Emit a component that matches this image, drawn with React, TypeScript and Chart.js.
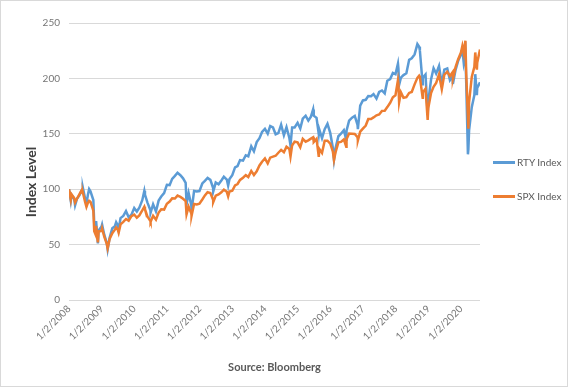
import React, { useEffect, useRef } from 'react';
import { Chart, registerables } from 'chart.js';

Chart.register(...registerables);

const seriesNames = ['RTY Index', 'SPX Index'];
const seriesColors = ['#5B9BD5', '#ED7D31'];
const yearTicks = [2008, 2009, 2010, 2011, 2012, 2013, 2014, 2015, 2016, 2017, 2018, 2019, 2020];

const dates = [
  '2008-01-02', '2008-01-22', '2008-01-31', '2008-02-29', '2008-03-10', '2008-03-31', '2008-04-30', '2008-05-19', '2008-05-30', '2008-06-05',
  '2008-06-30', '2008-07-15', '2008-07-31', '2008-08-14', '2008-08-29', '2008-09-30', '2008-10-10', '2008-10-27', '2008-10-31', '2008-11-20',
  '2008-11-28', '2008-12-31', '2009-01-06', '2009-01-30', '2009-02-27', '2009-03-09', '2009-03-31', '2009-04-30', '2009-05-29', '2009-06-12',
  '2009-06-30', '2009-07-10', '2009-07-31', '2009-08-31', '2009-09-30', '2009-10-30', '2009-11-30', '2009-12-31', '2010-01-29', '2010-02-26',
  '2010-03-31', '2010-04-23', '2010-04-30', '2010-05-28', '2010-06-30', '2010-07-02', '2010-07-30', '2010-08-31', '2010-09-30', '2010-10-29',
  '2010-11-30', '2010-12-31', '2011-01-31', '2011-02-28', '2011-03-31', '2011-04-29', '2011-05-31', '2011-06-30', '2011-07-29', '2011-08-08',
  '2011-08-31', '2011-09-30', '2011-10-03', '2011-10-31', '2011-11-30', '2011-12-30', '2012-01-31', '2012-02-29', '2012-03-30', '2012-04-30',
  '2012-05-31', '2012-06-01', '2012-06-29', '2012-07-31', '2012-08-31', '2012-09-28', '2012-10-31', '2012-11-15', '2012-11-30', '2012-12-31',
  '2013-01-31', '2013-02-28', '2013-03-28', '2013-04-30', '2013-05-31', '2013-06-28', '2013-07-31', '2013-08-30', '2013-09-30', '2013-10-31',
  '2013-11-29', '2013-12-31', '2014-01-31', '2014-02-28', '2014-03-31', '2014-04-30', '2014-05-30', '2014-06-30', '2014-07-31', '2014-08-29',
  '2014-09-30', '2014-10-13', '2014-10-31', '2014-11-28', '2014-12-31', '2015-01-30', '2015-02-27', '2015-03-31', '2015-04-30', '2015-05-29',
  '2015-06-23', '2015-06-30', '2015-07-31', '2015-08-25', '2015-08-31', '2015-09-30', '2015-10-30', '2015-11-30', '2015-12-31', '2016-01-29',
  '2016-02-11', '2016-02-29', '2016-03-31', '2016-04-29', '2016-05-31', '2016-06-27', '2016-06-30', '2016-07-29', '2016-08-31', '2016-09-30',
  '2016-10-31', '2016-11-04', '2016-11-30', '2016-12-30', '2017-01-31', '2017-02-28', '2017-03-31', '2017-04-28', '2017-05-31', '2017-06-30',
  '2017-07-31', '2017-08-31', '2017-09-29', '2017-10-31', '2017-11-30', '2017-12-29', '2018-01-26', '2018-01-31', '2018-02-08', '2018-02-28',
  '2018-03-29', '2018-04-30', '2018-05-31', '2018-06-29', '2018-07-31', '2018-08-31', '2018-09-20', '2018-09-28', '2018-10-29', '2018-10-31',
  '2018-11-30', '2018-12-24', '2018-12-31', '2019-01-31', '2019-02-28', '2019-03-29', '2019-04-30', '2019-05-31', '2019-06-28', '2019-07-31',
  '2019-08-30', '2019-09-30', '2019-10-02', '2019-10-31', '2019-11-29', '2019-12-31', '2020-01-16', '2020-01-31', '2020-02-19', '2020-02-28',
  '2020-03-18', '2020-03-23', '2020-03-31', '2020-04-30', '2020-05-29', '2020-06-08', '2020-06-26', '2020-06-30', '2020-07-31',
];

const rtyIndex = [
  100.0, 89.5, 94.7, 91.1, 85.5, 91.3, 94.8, 98.2, 99.3, 101.3,
  91.5, 86.8, 94.8, 100.1, 98.1, 90.2, 69.3, 60.6, 71.3, 51.1,
  62.8, 66.3, 68.1, 58.9, 51.6, 45.6, 56.1, 64.7, 66.6, 70.2,
  67.5, 63.6, 73.9, 75.9, 80.2, 74.7, 76.9, 83.0, 79.9, 83.4,
  90.1, 98.5, 95.1, 87.9, 80.9, 78.7, 86.4, 79.9, 89.7, 93.4,
  96.5, 104.0, 103.7, 109.3, 112.0, 114.8, 112.6, 109.8, 105.8, 86.4,
  96.5, 85.5, 80.9, 98.4, 97.9, 98.3, 105.2, 107.6, 110.2, 108.4,
  101.1, 97.8, 106.0, 104.4, 107.8, 111.2, 108.7, 103.1, 109.1, 112.7,
  119.7, 120.9, 126.3, 125.8, 130.6, 129.7, 138.7, 134.2, 142.5, 146.0,
  151.7, 154.4, 150.1, 157.0, 155.7, 149.6, 150.6, 158.3, 148.7, 155.9,
  146.2, 139.5, 155.7, 155.7, 159.9, 154.7, 163.7, 166.3, 161.9, 165.4,
  172.0, 166.4, 164.4, 149.5, 153.9, 146.1, 154.2, 159.0, 150.8, 137.4,
  126.6, 137.2, 147.8, 150.1, 153.3, 144.6, 152.9, 161.9, 164.6, 166.1,
  158.1, 154.3, 175.5, 180.1, 180.7, 184.0, 183.9, 185.9, 181.8, 187.8,
  189.1, 186.5, 197.9, 199.4, 204.9, 203.8, 213.4, 209.0, 194.2, 200.7,
  203.0, 204.6, 216.8, 218.1, 221.7, 231.0, 228.5, 225.2, 194.8, 200.6,
  203.5, 168.1, 179.0, 199.0, 209.1, 204.3, 211.2, 194.5, 207.9, 209.0,
  198.4, 202.2, 195.0, 207.4, 215.6, 221.4, 226.3, 214.2, 222.8, 195.9,
  131.5, 136.0, 153.0, 174.0, 185.0, 203.8, 184.9, 191.3, 196.5,
];

const spxIndex = [
  100.0, 90.6, 95.3, 92.0, 88.0, 91.4, 95.8, 98.6, 96.8, 97.0,
  88.5, 84.0, 87.6, 89.5, 88.6, 80.6, 62.1, 58.7, 66.9, 52.0,
  61.9, 62.4, 64.6, 57.1, 50.8, 46.7, 55.1, 60.3, 63.5, 65.4,
  63.5, 60.7, 68.2, 70.5, 73.1, 71.6, 75.7, 77.1, 74.2, 76.3,
  80.8, 84.1, 82.0, 75.3, 71.2, 70.7, 76.1, 72.5, 78.9, 81.8,
  81.6, 86.9, 88.9, 91.7, 91.6, 94.2, 93.0, 91.3, 89.3, 77.4,
  84.2, 78.2, 76.0, 86.6, 86.2, 86.9, 90.7, 94.4, 97.3, 96.6,
  90.5, 88.3, 94.1, 95.3, 97.2, 99.6, 97.6, 93.5, 97.9, 98.6,
  103.5, 104.7, 108.4, 110.4, 112.7, 111.0, 116.5, 112.8, 116.2, 121.4,
  124.8, 127.7, 123.2, 128.5, 129.4, 130.2, 132.9, 135.5, 133.4, 138.4,
  136.3, 129.5, 139.5, 142.9, 142.3, 137.9, 145.4, 142.9, 144.1, 145.6,
  146.8, 142.6, 145.4, 129.1, 136.3, 132.7, 143.7, 143.8, 141.2, 134.1,
  126.4, 133.5, 142.3, 142.7, 144.9, 138.2, 145.0, 150.2, 150.0, 149.8,
  146.9, 144.1, 152.0, 154.7, 157.5, 163.3, 163.3, 164.8, 166.7, 167.5,
  170.7, 170.8, 174.1, 178.0, 183.0, 184.8, 198.5, 195.1, 178.4, 187.5,
  182.5, 183.0, 186.9, 187.8, 194.6, 200.5, 202.5, 201.4, 182.5, 187.4,
  190.7, 162.5, 173.2, 186.9, 192.4, 195.9, 203.6, 190.2, 203.3, 206.0,
  202.2, 205.7, 199.5, 209.9, 217.1, 223.3, 229.2, 222.9, 234.0, 204.1,
  165.7, 154.6, 178.6, 201.3, 210.4, 223.4, 207.9, 214.2, 226.0,
];

const BASE = Date.UTC(2008, 0, 2);
function yearsSince(s: string): number {
  const [y, m, d] = s.split('-').map(Number);
  return (Date.UTC(y, m - 1, d) - BASE) / (365.25 * 86400000);
}

const FONT = 'Lato, "Open Sans", sans-serif';
const TICK_COLOR = '#767676';

export default function App() {
  const ref = useRef<HTMLCanvasElement | null>(null);

  useEffect(() => {
    document.body.style.margin = '0';
    const xs = dates.map(yearsSince);
    const tickXs = yearTicks.map((y) => yearsSince(`${y}-01-02`));
    const chart = new Chart(ref.current as HTMLCanvasElement, {
      type: 'line',
      data: {
        datasets: [
          {
            label: seriesNames[0],
            data: xs.map((x, i) => ({ x, y: rtyIndex[i] })),
            borderColor: seriesColors[0],
            backgroundColor: seriesColors[0],
            borderWidth: 2.5,
            pointRadius: 0,
            tension: 0,
            order: 1,
          },
          {
            label: seriesNames[1],
            data: xs.map((x, i) => ({ x, y: spxIndex[i] })),
            borderColor: seriesColors[1],
            backgroundColor: seriesColors[1],
            borderWidth: 2.5,
            pointRadius: 0,
            tension: 0,
            order: 0,
          },
        ],
      },
      options: {
        responsive: false,
        animation: false,
        layout: { padding: { left: 0, right: 88, top: 23, bottom: 10 } },
        plugins: { legend: { display: false }, tooltip: { enabled: false } },
        scales: {
          x: {
            type: 'linear',
            min: 0,
            max: xs[xs.length - 1],
            afterBuildTicks: (s: any) => {
              s.ticks = tickXs.map((v) => ({ value: v }));
            },
            afterFit: (s: any) => {
              s.height = 77;
            },
            ticks: {
              autoSkip: false,
              minRotation: 45,
              maxRotation: 45,
              padding: 3,
              color: TICK_COLOR,
              font: { family: FONT, size: 10 },
              callback: (_v: any, i: number) => '1/2/' + yearTicks[i],
            },
            grid: { display: false, drawTicks: false },
            border: { display: false },
            title: {
              display: true,
              text: 'Source: Bloomberg',
              color: '#595959',
              font: { family: FONT, size: 11, weight: 'bold' },
              padding: { top: 2, bottom: 3 },
            },
          },
          y: {
            min: 0,
            max: 250,
            afterFit: (s: any) => {
              s.width = 69;
            },
            ticks: {
              stepSize: 50,
              padding: 9,
              color: TICK_COLOR,
              font: { family: FONT, size: 10 },
            },
            grid: { color: '#d9d9d9', drawTicks: false },
            border: { display: false },
          },
        },
      },
    });
    return () => chart.destroy();
  }, []);

  return (
    <div style={{ position: 'relative', width: 568, height: 387, background: '#fff', fontFamily: FONT }}>
      <canvas ref={ref} width={568} height={387} style={{ display: 'block' }} />
      <div
        style={{
          position: 'absolute', left: 31 - 60, top: 182 - 9, width: 120, height: 18, lineHeight: '18px',
          textAlign: 'center', transform: 'rotate(-90deg)', fontWeight: 'bold', fontSize: 14, color: '#404040',
        }}
      >
        Index Level
      </div>
      {seriesNames.map((name, i) => (
        <div key={name} style={{ position: 'absolute', left: 493, top: (i === 0 ? 162 : 196) - 7, height: 14, display: 'flex', alignItems: 'center' }}>
          <div style={{ width: 22, height: 3, background: seriesColors[i] }} />
          <span style={{ marginLeft: 2, fontSize: 10, color: '#595959', lineHeight: '14px' }}>{name}</span>
        </div>
      ))}
      <div style={{ position: 'absolute', inset: 0, border: '1px solid #d9d9d9', pointerEvents: 'none' }} />
    </div>
  );
}
